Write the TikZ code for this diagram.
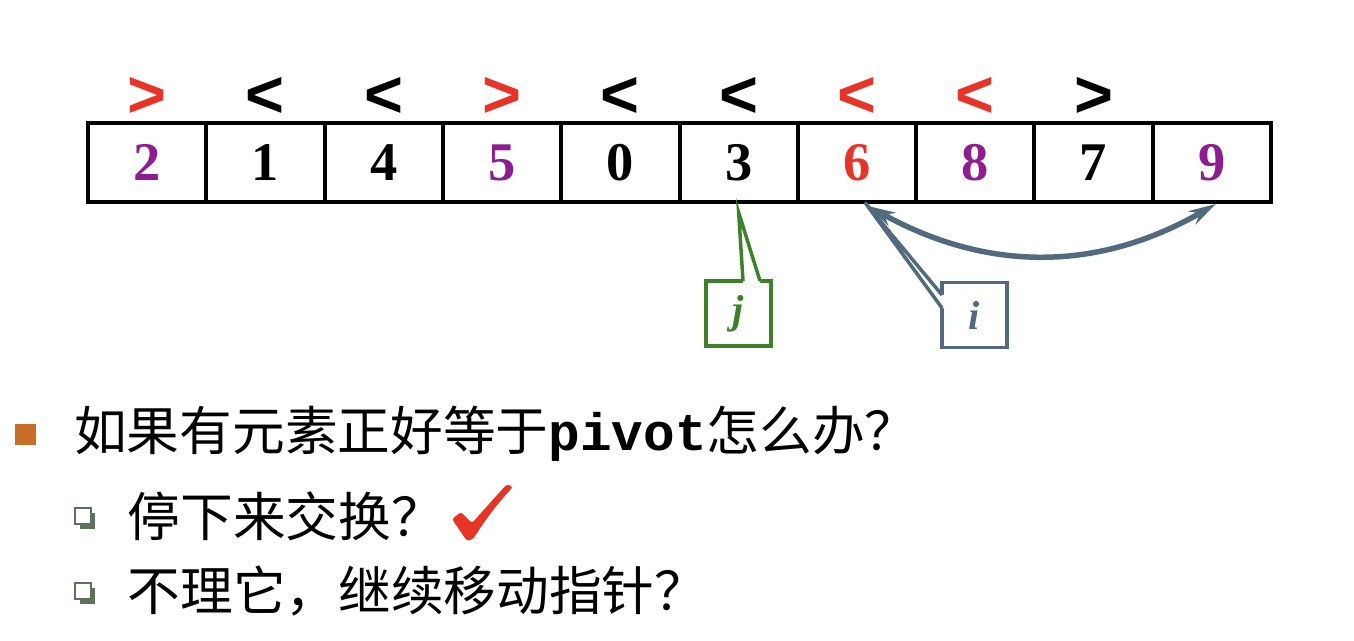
\documentclass[tikz,border=0pt]{standalone}
\usepackage{fontspec}
\setmainfont{Liberation Serif}
\setmonofont{Liberation Mono}
\newfontfamily\cjk{Noto Sans CJK SC}
\newfontfamily\signfont{Liberation Sans}
\usetikzlibrary{arrows.meta,positioning,calc,shadows}
\definecolor{markred}{RGB}{232,52,38}
\definecolor{numpurple}{RGB}{140,30,145}
\definecolor{jgreen}{RGB}{60,130,40}
\definecolor{islate}{RGB}{82,106,126}
\definecolor{bulorange}{RGB}{200,110,40}
\definecolor{subgreen}{RGB}{90,115,90}

\begin{document}
\begin{tikzpicture}[x=0.02cm, y=-0.02cm,
  cell/.style={draw, line width=0.08cm, minimum width=2.366cm, minimum height=1.58cm,
               inner sep=0pt, font=\fontsize{31}{31}\selectfont\bfseries},
  sign/.style={inner sep=0pt, font=\signfont\fontsize{38}{38}\selectfont\bfseries},
  tag/.style={draw, fill=white, line width=0.07cm, minimum size=1.3cm, inner sep=0pt,
              font=\fontsize{23}{23}\selectfont\bfseries\itshape},
  ptr/.style={line width=0.07cm, line join=miter},
  swap/.style={{Stealth[length=5.5mm,width=3mm,inset=1.8mm]}-{Stealth[length=5.5mm,width=3mm,inset=1.8mm]},
               line width=0.11cm, islate},
  bul/.style={fill=bulorange, minimum size=0.42cm, inner sep=0pt},
  subbul/.style={draw=subgreen, fill=white, line width=0.05cm, minimum size=0.32cm, inner sep=0pt,
                 drop shadow={fill=subgreen, opacity=1, shadow xshift=0.09cm, shadow yshift=-0.09cm}},
  item/.style={inner sep=0pt, font=\cjk\fontsize{30}{30}\selectfont}
]
\useasboundingbox (0,0) rectangle (1354,640);

% the array
\foreach \v/\c [count=\k from 0] in {2/numpurple,1/black,4/black,5/numpurple,0/black,
                                     3/black,6/markred,8/numpurple,7/black,9/numpurple}
  \node[cell, text=\c] (c\k) at ({147.15+118.3*\k},162.5) {\v};

% comparison marks
\foreach \s/\c [count=\k from 0] in {>/markred,</black,</black,>/markred,</black,
                                     </black,</markred,</markred,>/black}
  \node[sign, text=\c] (s\k) at (c\k |- 0,97) {\s};

% pointers j and i
\node[tag, draw=jgreen, text=jgreen] (jtag) at (738.5,313.5) {j};
\coordinate (jtip) at ([yshift=-0.17cm]c5.south);
\fill[white] ($(jtag.north)+(4.5,4)$) -- ($(jtag.north)+(4.5,1.75)$) -- (jtip)
  -- ($(jtag.north)+(21.5,1.75)$) -- ($(jtag.north)+(21.5,4)$) -- cycle;
\draw[ptr, jgreen] ($(jtag.north)+(4.5,1.75)$) -- (jtip) -- ($(jtag.north)+(21.5,1.75)$);

\node[tag, draw=islate, text=islate] (itag) at (974.5,315) {i};
\coordinate (itip) at ($(c6.south)+(8,-1.5)$);
\fill[white] ($(itag.west)+(4,-20)$) -- ($(itag.west)+(1.75,-20)$) -- (itip)
  -- ($(itag.west)+(1.75,-7)$) -- ($(itag.west)+(4,-7)$) -- cycle;
\draw[ptr, islate] ($(itag.west)+(1.75,-20)$) -- (itip) -- ($(itag.west)+(1.75,-7)$);

\draw[swap] ($(c6.south)+(11,2)$) to[out=-29, in=-150] ($(c9.south)+(4,0)$);

% bullet list
\node[bul] (b1) at (25.5,434) {};
\node[item, right=0.75cm of b1] (t1) {如果有元素正好等于{\ttfamily\bfseries pivot}怎么办？};
\node[subbul] (b2) at (83,516) {};
\node[item, right=0.7cm of b2] (t2) {停下来交换？};
\node[subbul] (b3) at (83,591) {};
\node[item, right=0.7cm of b3] (t3) {不理它，继续移动指针？};

% check mark
\fill[markred, rounded corners=1.5pt] (452,519) -- (461,512) -- (472,523) -- (507,484) -- (513,487)
  .. controls (496,505) and (484,522) .. (473,539) -- (467,541) -- cycle;
\end{tikzpicture}
\end{document}
